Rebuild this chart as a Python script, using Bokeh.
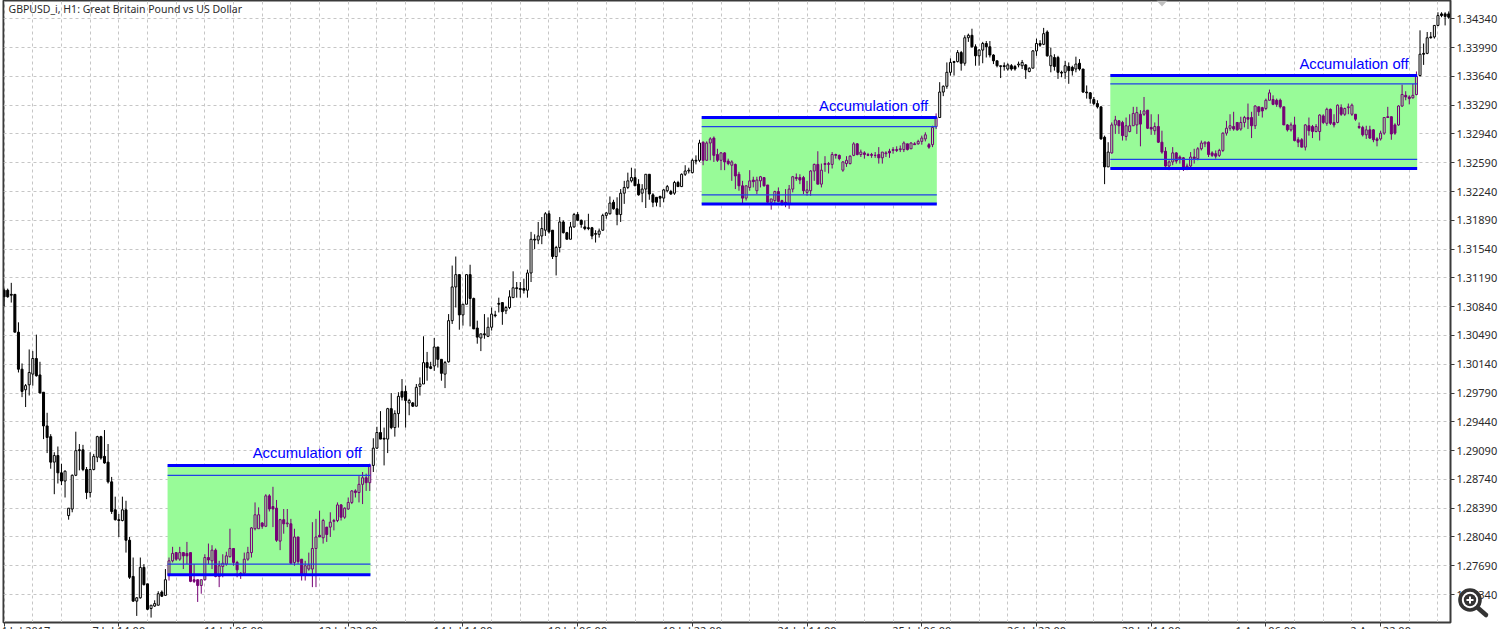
from bokeh.plotting import figure
from bokeh.models import FixedTicker, Label, PolyAnnotation, ColumnDataSource
from bokeh.core.properties import value
from bokeh.embed import file_html
from bokeh.resources import INLINE

# prices in 1/10000 units
opens = [
13104,13104,13099,13099,13053,13008,12983,12989,13002,13021,13001,12980,12939,12926,12895,12903,
12882,12872,12830,12838,12879,12910,12910,12886,12858,12886,12901,12926,12902,12895,12871,12837,
12825,12824,12837,12800,12756,12726,12730,12767,12747,12717,12720,12721,12737,12733,12757,12775,
12785,12777,12785,12784,12785,12752,12752,12745,12752,12779,12775,12788,12756,12768,12771,12780,
12790,12773,12760,12760,12777,12785,12814,12814,12821,12817,12854,12841,12839,12799,12825,12820,
12820,12773,12804,12777,12759,12765,12765,12790,12806,12803,12816,12816,12823,12824,12843,12828,
12838,12846,12860,12858,12868,12876,12870,12891,12912,12931,12924,12923,12960,12937,12954,12981,
12981,12967,12967,12963,12987,12990,13016,13011,13012,13035,13020,13002,13017,13067,13108,13123,
13074,13087,13123,13094,13058,13046,13051,13048,13059,13074,13088,13089,13079,13083,13095,13107,
13106,13106,13104,13125,13166,13165,13170,13177,13197,13177,13145,13156,13187,13174,13166,13181,
13196,13189,13181,13180,13180,13172,13172,13177,13195,13197,13211,13203,13196,13222,13229,13237,
13241,13233,13222,13227,13245,13220,13217,13218,13216,13225,13224,13222,13235,13230,13245,13249,
13247,13262,13262,13284,13262,13283,13289,13269,13262,13271,13261,13256,13257,13245,13231,13216,
13229,13238,13225,13237,13241,13232,13211,13213,13224,13213,13211,13209,13227,13241,13241,13241,
13223,13225,13249,13257,13233,13258,13257,13257,13269,13268,13250,13258,13258,13268,13282,13269,
13271,13269,13269,13268,13269,13265,13270,13273,13274,13275,13275,13275,13282,13276,13282,13282,
13285,13288,13281,13281,13303,13314,13345,13352,13369,13382,13382,13393,13380,13411,13414,13400,
13389,13396,13404,13400,13390,13383,13376,13377,13373,13377,13376,13378,13377,13378,13370,13374,
13395,13404,13403,13418,13377,13387,13387,13369,13369,13376,13375,13373,13380,13373,13345,13344,
13336,13331,13327,13290,13254,13271,13305,13310,13308,13291,13297,13304,13305,13318,13318,13323,
13302,13298,13303,13284,13273,13255,13260,13271,13266,13265,13254,13255,13266,13264,13276,13282,
13284,13271,13270,13268,13274,13295,13301,13303,13308,13300,13308,13314,13314,13304,13327,13326,
13325,13335,13336,13335,13335,13327,13305,13299,13305,13287,13287,13278,13304,13303,13297,13297,
13316,13307,13324,13308,13308,13326,13318,13326,13318,13318,13303,13302,13293,13299,13299,13288,
13288,13295,13315,13315,13305,13305,13328,13341,13339,13338,13342,13365,13392,13392,13412,13412,
13426,13440,13440,13440]
closes = [
13096,13096,13098,13053,13008,12981,12988,13004,13021,13000,12979,12939,12925,12895,12903,12882,
12872,12884,12839,12879,12909,12909,12886,12858,12886,12902,12926,12900,12894,12871,12835,12825,
12824,12837,12800,12755,12726,12730,12767,12746,12716,12721,12723,12735,12732,12752,12775,12784,
12777,12785,12781,12781,12750,12750,12745,12752,12779,12776,12788,12756,12769,12772,12781,12790,
12773,12764,12759,12777,12785,12815,12831,12831,12817,12854,12838,12838,12800,12825,12820,12821,
12772,12804,12774,12758,12769,12770,12790,12804,12804,12824,12807,12822,12824,12843,12828,12839,
12846,12860,12858,12868,12876,12870,12891,12912,12931,12923,12923,12960,12937,12954,12975,12974,
12970,12970,12963,12986,12990,13016,13010,13009,13035,13020,13003,13016,13067,13108,13123,13074,
13087,13123,13094,13057,13047,13051,13050,13059,13075,13073,13087,13078,13083,13096,13107,13106,
13105,13104,13125,13166,13165,13170,13179,13197,13175,13145,13156,13187,13174,13166,13181,13196,
13189,13184,13179,13179,13170,13173,13176,13195,13198,13210,13203,13196,13222,13229,13237,13241,
13231,13220,13227,13245,13221,13211,13211,13216,13226,13230,13221,13235,13230,13245,13249,13250,
13262,13261,13283,13262,13283,13288,13268,13262,13271,13260,13258,13260,13243,13231,13216,13231,
13237,13236,13238,13242,13231,13211,13215,13224,13212,13210,13209,13227,13242,13240,13238,13225,
13226,13249,13257,13233,13250,13257,13258,13269,13268,13264,13260,13262,13267,13282,13269,13272,
13269,13268,13268,13268,13265,13272,13271,13271,13275,13274,13276,13283,13275,13283,13281,13285,
13289,13293,13278,13302,13314,13345,13352,13369,13381,13381,13393,13380,13411,13414,13400,13389,
13396,13404,13400,13390,13383,13377,13377,13376,13378,13373,13373,13379,13381,13372,13374,13395,
13404,13402,13416,13389,13389,13376,13369,13368,13377,13371,13371,13379,13373,13345,13344,13337,
13331,13327,13288,13254,13272,13305,13311,13304,13292,13304,13304,13319,13320,13306,13322,13301,
13300,13303,13284,13272,13255,13260,13271,13261,13263,13254,13255,13266,13264,13276,13283,13284,
13269,13268,13267,13274,13295,13301,13304,13300,13299,13308,13314,13312,13304,13328,13321,13322,
13335,13344,13330,13330,13327,13305,13299,13305,13286,13284,13278,13305,13298,13297,13303,13317,
13308,13324,13307,13305,13329,13318,13325,13327,13329,13312,13302,13293,13299,13289,13287,13286,
13295,13314,13314,13294,13295,13328,13342,13339,13337,13341,13364,13391,13391,13411,13411,13426,
13438,13438,13437,13436]
highs = [
13106,13106,13113,13099,13065,13015,12990,13032,13030,13050,13017,12980,12955,12929,12907,12914,
12893,12885,12839,12880,12932,12917,12916,12889,12907,12905,12927,12927,12934,12917,12877,12853,
12832,12853,12848,12804,12779,12731,12779,12771,12747,12721,12727,12738,12739,12765,12779,12792,
12785,12792,12785,12798,12785,12771,12752,12752,12783,12796,12794,12790,12775,12783,12786,12814,
12790,12775,12761,12785,12792,12816,12846,12840,12822,12856,12856,12865,12849,12826,12838,12838,
12826,12814,12804,12777,12775,12785,12822,12826,12836,12826,12816,12834,12826,12846,12844,12840,
12852,12861,12862,12878,12883,12881,12893,12924,12938,12957,12937,12961,12979,12958,12980,12996,
12988,12972,12968,12990,12998,13048,13029,13017,13046,13035,13020,13018,13075,13134,13145,13123,
13087,13123,13135,13095,13067,13051,13075,13071,13083,13079,13095,13089,13085,13104,13127,13114,
13114,13118,13129,13175,13172,13187,13193,13199,13201,13177,13158,13193,13189,13175,13187,13198,
13199,13190,13189,13197,13181,13177,13179,13197,13199,13218,13214,13217,13227,13237,13247,13253,
13252,13239,13233,13245,13245,13222,13217,13219,13227,13232,13226,13237,13237,13246,13256,13253,
13264,13268,13287,13285,13285,13290,13291,13276,13272,13272,13264,13262,13258,13248,13237,13231,
13250,13242,13242,13243,13241,13232,13215,13225,13229,13214,13227,13232,13243,13246,13245,13243,
13237,13250,13258,13273,13258,13267,13260,13272,13270,13269,13261,13267,13268,13284,13283,13275,
13273,13271,13271,13272,13278,13272,13273,13276,13278,13279,13280,13285,13282,13284,13284,13287,
13292,13296,13283,13304,13319,13357,13353,13381,13386,13383,13396,13395,13414,13416,13422,13403,
13397,13406,13407,13407,13391,13382,13377,13381,13380,13379,13378,13382,13384,13379,13375,13396,
13410,13408,13423,13420,13399,13391,13389,13371,13383,13381,13377,13388,13385,13373,13353,13345,
13339,13335,13327,13292,13284,13308,13316,13311,13310,13314,13318,13327,13327,13323,13339,13323,
13318,13308,13318,13298,13278,13262,13278,13272,13268,13266,13258,13272,13276,13278,13286,13285,
13285,13273,13274,13276,13296,13310,13318,13321,13308,13315,13316,13331,13321,13329,13327,13327,
13337,13348,13341,13337,13337,13327,13306,13308,13315,13290,13289,13306,13314,13305,13306,13318,
13318,13326,13325,13318,13330,13330,13326,13331,13331,13318,13308,13304,13304,13304,13300,13290,
13298,13314,13327,13315,13307,13329,13354,13346,13341,13355,13370,13420,13404,13418,13418,13426,
13442,13442,13442,13443]
lows = [
13084,13095,13089,13053,13004,12974,12962,12976,12988,12999,12979,12923,12906,12887,12856,12869,
12867,12852,12825,12834,12878,12885,12884,12850,12852,12885,12895,12898,12893,12869,12832,12824,
12804,12823,12785,12753,12725,12708,12729,12745,12715,12706,12719,12721,12731,12733,12751,12773,
12775,12775,12765,12771,12749,12748,12725,12735,12751,12771,12765,12755,12743,12755,12769,12779,
12769,12755,12753,12757,12775,12779,12812,12816,12814,12816,12835,12816,12798,12788,12808,12816,
12771,12769,12771,12751,12751,12763,12743,12743,12804,12796,12798,12804,12812,12822,12824,12826,
12837,12844,12852,12846,12844,12860,12860,12883,12911,12923,12891,12906,12935,12926,12937,12970,
12937,12952,12962,12963,12976,12990,12994,13008,13006,13010,12994,12985,13016,13063,13083,13056,
13061,13087,13060,13057,13039,13030,13045,13047,13055,13071,13077,13062,13075,13081,13095,13095,
13095,13100,13095,13114,13154,13160,13160,13170,13173,13142,13122,13150,13173,13166,13166,13180,
13188,13180,13177,13177,13166,13162,13168,13176,13191,13196,13202,13183,13187,13209,13227,13235,
13233,13219,13211,13204,13214,13205,13206,13205,13211,13223,13220,13220,13230,13230,13243,13246,
13246,13257,13260,13256,13262,13262,13260,13260,13250,13250,13256,13237,13227,13225,13209,13213,
13225,13229,13221,13229,13230,13210,13202,13210,13211,13207,13205,13203,13223,13237,13233,13221,
13219,13219,13237,13233,13229,13248,13246,13252,13264,13262,13248,13254,13257,13267,13268,13266,
13264,13267,13265,13265,13258,13258,13266,13265,13270,13272,13272,13272,13274,13276,13281,13281,
13281,13285,13276,13278,13300,13314,13340,13349,13365,13365,13381,13371,13377,13406,13399,13377,
13377,13380,13387,13387,13379,13375,13362,13371,13371,13371,13371,13375,13373,13361,13369,13374,
13389,13400,13402,13388,13369,13371,13361,13363,13361,13355,13365,13369,13371,13344,13337,13331,
13329,13325,13287,13233,13254,13270,13294,13294,13286,13286,13296,13304,13294,13279,13316,13300,
13293,13293,13283,13270,13254,13250,13256,13258,13258,13249,13250,13252,13258,13262,13274,13278,
13266,13266,13264,13266,13272,13292,13298,13298,13298,13298,13302,13300,13289,13300,13316,13314,
13323,13335,13329,13327,13325,13305,13297,13297,13285,13278,13278,13274,13292,13289,13296,13286,
13306,13304,13305,13302,13307,13316,13316,13318,13316,13310,13300,13291,13288,13288,13284,13279,
13286,13293,13314,13287,13293,13304,13327,13335,13330,13337,13341,13364,13378,13391,13410,13410,
13425,13436,13426,13434]

box_start = [46, 195, 309]
box_end = [102, 260, 394]
box_top = [12891, 13314, 13365]
box_bottom = [12758, 13209, 13252]
box_upper_level = [12879, 13303, 13355]
box_lower_level = [12771, 13220, 13263]
box_label = ["Accumulation off"] * 3

price_ticks = [1.34340, 1.33990, 1.33640, 1.33290, 1.32940, 1.32590, 1.32240, 1.31890, 1.31540,
               1.31190, 1.30840, 1.30490, 1.30140, 1.29790, 1.29440, 1.29090, 1.28740, 1.28390,
               1.28040, 1.27690, 1.27340]
time_ticks = [0, 32, 64, 96, 128, 160, 192, 224, 256, 288, 320, 352, 384]
time_labels = ["4 Jul 2017", "7 Jul 14:00", "11 Jul 06:00", "12 Jul 22:00", "14 Jul 14:00",
               "18 Jul 06:00", "19 Jul 22:00", "21 Jul 14:00", "25 Jul 06:00", "26 Jul 22:00",
               "28 Jul 14:00", "1 Aug 06:00", "2 Aug 22:00"]
chart_title = "GBPUSD_i, H1:  Great Britain Pound vs US Dollar"

assert len(opens) == len(closes) == len(highs) == len(lows), (len(opens), len(closes), len(highs), len(lows))

PIP = 1e-4
n = len(opens)
idx = list(range(n))
in_box = [any(s <= i <= e for s, e in zip(box_start, box_end)) for i in idx]
ink = ["#760076" if b else "#000000" for b in in_box]
fill = [(c if c_ < o else ("#98FB98" if b else "#FFFFFF"))
        for o, c_, b, c in zip(opens, closes, in_box, ink)]
src = ColumnDataSource(dict(
    x=idx, hi=[v * PIP for v in highs], lo=[v * PIP for v in lows],
    top=[max(a, b) * PIP for a, b in zip(opens, closes)],
    bot=[min(a, b) * PIP for a, b in zip(opens, closes)],
    ink=ink, fill=fill))

p = figure(frame_width=1447, frame_height=622, output_backend="svg", toolbar_location=None,
           x_range=(-0.17, 403.5), y_range=(1.27000, 1.34563), y_axis_location="right",
           min_border_left=3, min_border_right=50, min_border_top=0, min_border_bottom=7,
           background_fill_color="white", border_fill_color="white")
p.outline_line_color = "#3A3A3A"
p.outline_line_width = 2

# the window shows only the top of the time labels; the zoom badge of the terminal sits on top
badge_svg = ("data:image/svg+xml,<svg xmlns='http://www.w3.org/2000/svg' width='34' height='34'>"
             "<circle cx='13' cy='13' r='10' fill='white' stroke='%23333' stroke-width='3.6'/>"
             "<circle cx='13' cy='13' r='6.2' fill='%23333'/>"
             "<path d='M13 9.5v7M9.5 13h7' stroke='white' stroke-width='2'/>"
             "<path d='M21 21l8 7' stroke='%23333' stroke-width='4.5' stroke-linecap='round'/></svg>")
p.stylesheets = [
    ":host { height: 629px !important; overflow: hidden !important; position: relative; }",
    ':host::after { content: ""; position: absolute; left: 1457px; top: 587px; width: 34px; '
    f'height: 34px; background: url("{badge_svg}") no-repeat; z-index: 10; }}',
]

FONT = "Noto Sans"
TEXT = "#2B2B2B"
p.yaxis.ticker = FixedTicker(ticks=price_ticks)
p.yaxis.major_label_overrides = {t: f"{t:.5f}" for t in price_ticks}
p.yaxis.major_label_text_font = FONT
p.yaxis.major_label_text_font_size = "11px"
p.yaxis.major_label_text_color = TEXT
p.yaxis.major_label_standoff = 2
p.yaxis.major_tick_in = 0
p.yaxis.major_tick_out = 4
p.yaxis.minor_tick_line_color = None
p.yaxis.axis_line_color = "#3A3A3A"
p.yaxis.major_tick_line_color = "#3A3A3A"

p.xaxis.ticker = FixedTicker(ticks=time_ticks)
p.xaxis.major_label_overrides = dict(zip(time_ticks, time_labels))
p.xaxis.major_label_text_font = FONT
p.xaxis.major_label_text_font_size = "11px"
p.xaxis.major_label_text_color = TEXT
p.xaxis.major_label_text_align = "left"
p.xaxis.major_label_standoff = -4
p.xaxis.major_tick_in = 0
p.xaxis.major_tick_out = 4
p.xaxis.minor_tick_line_color = None
p.xaxis.axis_line_color = "#3A3A3A"
p.xaxis.major_tick_line_color = "#3A3A3A"

p.xgrid[0].ticker = FixedTicker(ticks=list(range(0, n, 8)))
p.ygrid[0].ticker = FixedTicker(ticks=price_ticks)
for g in (p.xgrid[0], p.ygrid[0]):
    g.grid_line_color = "#C6C6C6"
    g.grid_line_dash = "3 3"
    g.grid_line_width = 1

p.quad(left=[s - 0.4 for s in box_start], right=[e + 0.2 for e in box_end],
       top=[v * PIP for v in box_top], bottom=[v * PIP for v in box_bottom],
       fill_color="#98FB98", line_color=None)

p.segment("x", "hi", "x", "lo", source=src, line_color="ink", line_width=1)
p.vbar(x="x", top="top", bottom="bot", width=0.56, source=src,
       fill_color="fill", line_color="ink", line_width=1)

for level, lw in ((box_top, 3), (box_bottom, 3), (box_upper_level, 1.3), (box_lower_level, 1.3)):
    p.segment([s - 0.4 for s in box_start], [v * PIP for v in level],
              [e + 0.2 for e in box_end], [v * PIP for v in level],
              line_color="#0000FF" if lw == 3 else "#2040E8", line_width=lw)

p.text(x=[e - 2.2 for e in box_end], y=[v * PIP for v in box_top], text=box_label,
       text_font=value("Liberation Sans"), text_font_size="14.8px", text_color="#0000FF",
       text_align="right", text_baseline="bottom", y_offset=-4)

p.add_layout(Label(x=8, y=8, x_units="canvas", y_units="canvas", text=chart_title,
                   text_font=FONT, text_font_size="10.5px", text_color=TEXT,
                   text_baseline="middle"))

p.add_layout(PolyAnnotation(xs=[1156, 1167, 1161.5], ys=[0, 0, 6], xs_units="canvas", ys_units="canvas",
                            fill_color="#C0C0C0", fill_alpha=1, line_color=None))

open("out.html", "w").write(file_html(p, INLINE))
